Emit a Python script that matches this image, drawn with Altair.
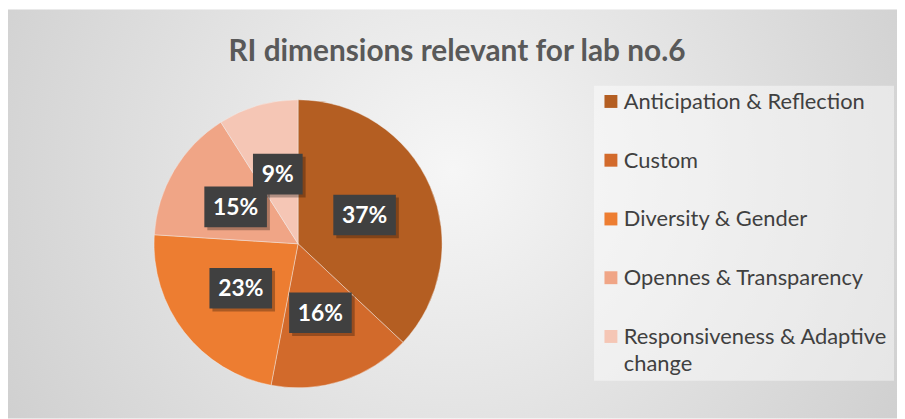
import altair as alt
import pandas as pd

# ---- data ----
title_text = "RI dimensions relevant for lab no.6"
categories = [
    "Anticipation & Reflection",
    "Custom",
    "Diversity & Gender",
    "Opennes & Transparency",
    "Responsiveness & Adaptive change",
]
values = [37, 16, 23, 15, 9]
colors = ["#B45E22", "#D26A2B", "#ED7D31", "#F0A586", "#F5C6B5"]

# ---- layout constants ----
W, H = 895, 412
CX, CY, R = 292, 236, 145
LR = 73  # label radius

df = pd.DataFrame({"cat": categories, "value": values, "order": list(range(len(values)))})
one = pd.DataFrame({"t": [title_text]})

color = alt.Color("cat:N", scale=alt.Scale(domain=categories, range=colors), legend=None)

bg = alt.Chart(one).mark_rect(
    fill=alt.Gradient(
        gradient="radial",
        stops=[alt.GradientStop(color="#f6f6f6", offset=0),
               alt.GradientStop(color="#c4c4c4", offset=1)],
        x1=0.5, y1=0.45, r1=0, x2=0.5, y2=0.45, r2=0.75,
    )
).encode(x=alt.value(0), x2=alt.value(W), y=alt.value(0), y2=alt.value(H))

title = alt.Chart(one).mark_text(
    font="Lato", fontWeight="bold", fontSize=30, color="#595959",
    align="center", baseline="alphabetic",
).encode(x=alt.value(452), y=alt.value(52), text="t:N")

pie = alt.Chart(df).mark_arc(
    outerRadius=R, stroke="#f3f3f3", strokeWidth=0.6, strokeOpacity=0.7
).encode(
    theta=alt.Theta("value:Q", stack=True),
    color=color,
    order=alt.Order("order:Q"),
    x=alt.value(CX), y=alt.value(CY),
)

lbl_base = alt.Chart(df).transform_window(
    cum="sum(value)", sort=[alt.SortField("order")], frame=[None, 0]
).transform_joinaggregate(total="sum(value)").transform_calculate(
    mid="2*PI*(datum.cum - datum.value/2)/datum.total",
    lx=f"{LR}*sin(datum.mid)",
    ly=f"{LR}*cos(datum.mid)",
    lbl="round(100*datum.value/datum.total) + '%'",
    hw="12 + 6.5*length(datum.lbl)",
    bx1="datum.lx - datum.hw", bx2="datum.lx + datum.hw",
    by1="datum.ly - 20.5", by2="datum.ly + 20.5",
)

xs = alt.Scale(domain=[-R, R], range=[CX - R, CX + R], nice=False, zero=False)
ys = alt.Scale(domain=[-R, R], range=[CY + R, CY - R], nice=False, zero=False)

shadow = lbl_base.mark_rect(fill="#000000", opacity=0.28, xOffset=3, yOffset=3, x2Offset=3, y2Offset=3).encode(
    x=alt.X("bx1:Q", scale=xs, axis=None), x2="bx2:Q",
    y=alt.Y("by1:Q", scale=ys, axis=None), y2="by2:Q",
)
box = lbl_base.mark_rect(fill="#404040", opacity=1).encode(
    x=alt.X("bx1:Q", scale=xs, axis=None), x2="bx2:Q",
    y=alt.Y("by1:Q", scale=ys, axis=None), y2="by2:Q",
)
lbl = lbl_base.mark_text(
    font="Lato", fontWeight="bold", fontSize=23, color="white",
    align="center", baseline="middle", dy=1,
).encode(
    x=alt.X("lx:Q", scale=xs, axis=None),
    y=alt.Y("ly:Q", scale=ys, axis=None),
    text="lbl:N",
)

legend_bg = alt.Chart(one).mark_rect(fill="white", opacity=0.45).encode(
    x=alt.value(590), x2=alt.value(892), y=alt.value(77), y2=alt.value(374)
)
ly_scale = alt.Scale(type="point", domain=categories, range=[92.7, 329.3], padding=0)
leg_sw = alt.Chart(df).mark_square(size=169, opacity=1, filled=True).encode(
    x=alt.value(607),
    y=alt.Y("cat:N", scale=ly_scale, axis=None),
    color=color,
)
leg_tx = alt.Chart(df).transform_calculate(
    disp="length(datum.cat) > 26 ? slice(datum.cat, 0, lastindexof(datum.cat, ' ')) + '\\n' + slice(datum.cat, lastindexof(datum.cat, ' ') + 1) : datum.cat"
).mark_text(
    font="Lato", fontSize=22, color="#404040", align="left",
    baseline="alphabetic", dy=7.5, lineBreak="\n", lineHeight=27,
).encode(
    x=alt.value(620),
    y=alt.Y("cat:N", scale=ly_scale, axis=None),
    text="disp:N",
)

chart = alt.layer(
    bg, title, pie, shadow, box, lbl, legend_bg, leg_sw, leg_tx
).resolve_scale(x="independent", y="independent").properties(
    width=W, height=H, padding=0,
    autosize=alt.AutoSizeParams(type="none"),
).configure_view(stroke=None)

chart.save("out.html", embed_options={"renderer": "svg", "actions": False})
